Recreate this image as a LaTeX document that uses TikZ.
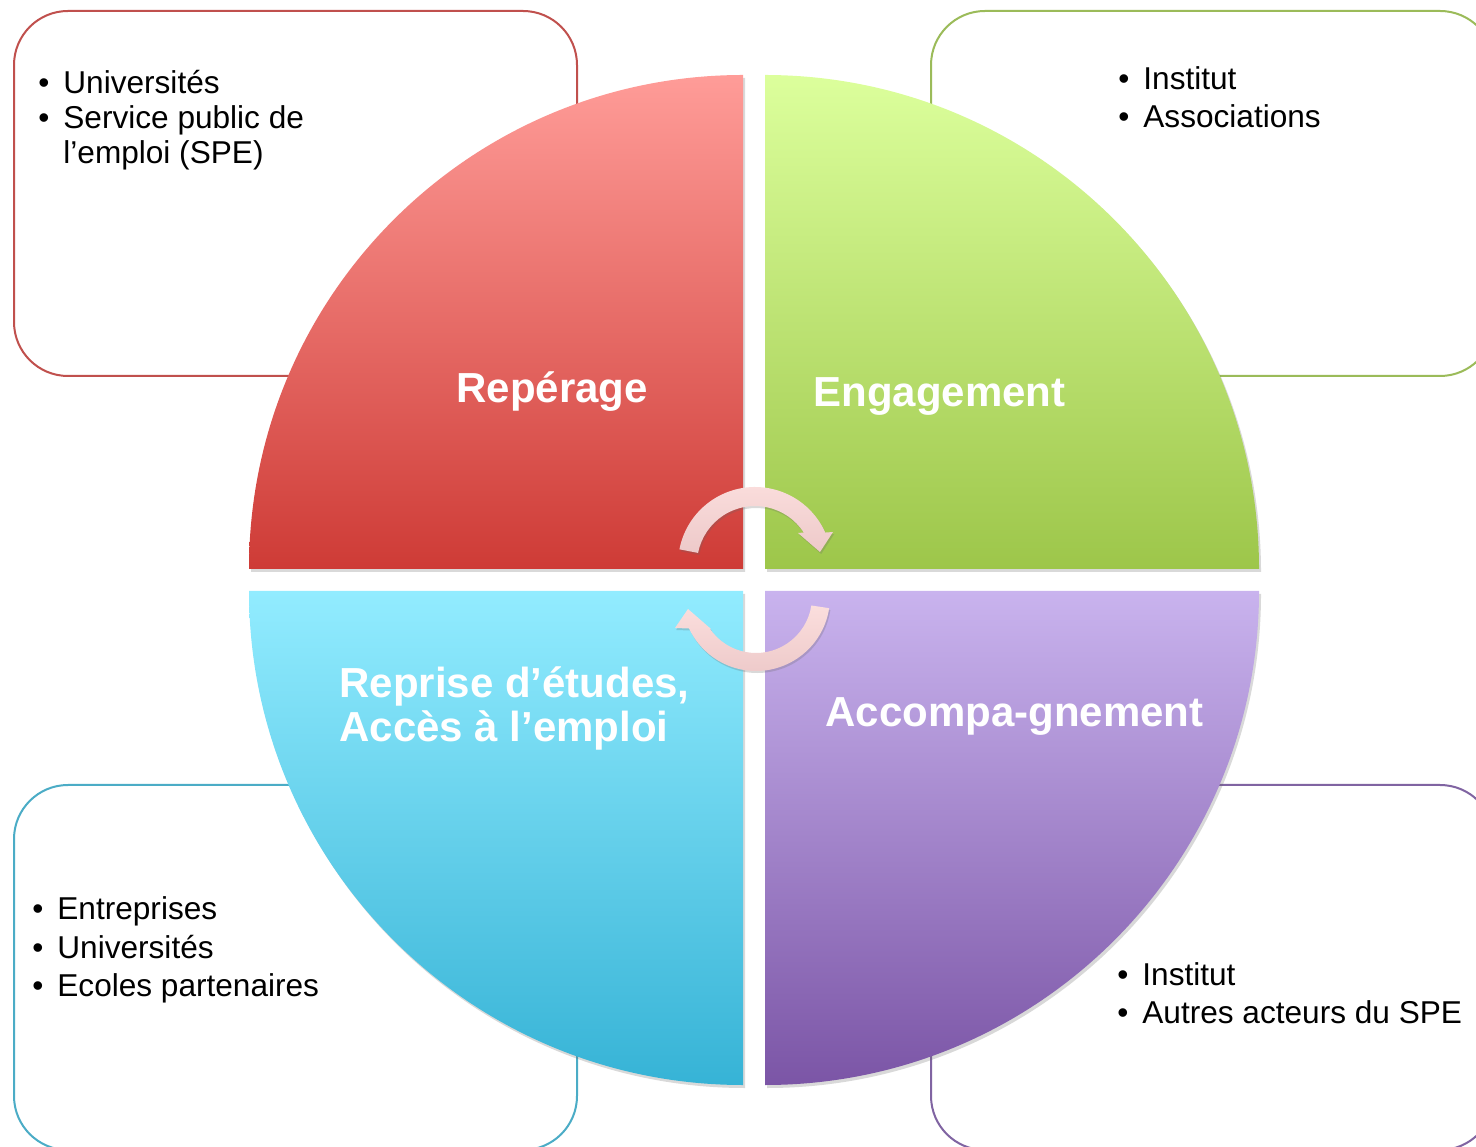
\documentclass[tikz,border=0pt]{standalone}
\usepackage{fontspec}
\setmainfont{Liberation Sans}
\usetikzlibrary{shadows}
\definecolor{boxred}{HTML}{C0504D}
\definecolor{boxgreen}{HTML}{9BBB59}
\definecolor{boxblue}{HTML}{4BACC6}
\definecolor{boxpurple}{HTML}{8064A2}
\definecolor{redtop}{HTML}{FF9C98}
\definecolor{redbot}{HTML}{CE3B36}
\definecolor{greentop}{HTML}{DCFF9C}
\definecolor{greenbot}{HTML}{9DC64A}
\definecolor{bluetop}{HTML}{92ECFF}
\definecolor{bluebot}{HTML}{36B3D6}
\definecolor{purtop}{HTML}{C9B3EE}
\definecolor{purbot}{HTML}{7B55A6}
\definecolor{arrtop}{HTML}{FBDEDD}
\definecolor{arrbot}{HTML}{EDC9C9}
\newcommand\bmark{\llap{\makebox[12.5pt][l]{•}}}
\begin{document}
\begin{tikzpicture}[x=0.5pt,y=0.5pt,
  partbox/.style={line width=1pt, rounded corners=27pt, fill=white},
  quad/.style={drop shadow={shadow xshift=1pt, shadow yshift=-1.5pt, opacity=0.25, fill=black!60}},
  arrowfill/.style={top color=arrtop, bottom color=arrbot,
     drop shadow={shadow xshift=0.6pt, shadow yshift=-1pt, opacity=0.25, fill=black!60}},
  item/.style={inner sep=0pt, anchor=base west, font=\fontsize{15.8}{19}\selectfont, text=black},
  label/.style={inner sep=0pt, anchor=base west, font=\fontsize{21}{22}\selectfont\bfseries, text=white}]
\useasboundingbox (0,0) rectangle (1476,1146);
\clip (0,0) rectangle (1476,1146);

% boxes
\draw[partbox, draw=boxred]    (14,770) rectangle (577,1135);
\draw[partbox, draw=boxgreen]  (931,770) rectangle (1494,1135);
\draw[partbox, draw=boxblue]   (14,-4) rectangle (577,361);
\draw[partbox, draw=boxpurple] (931,-4) rectangle (1494,361);

% quadrants
\coordinate (cTL) at (743,577);
\coordinate (cTR) at (765,577);
\coordinate (cBL) at (743,555);
\coordinate (cBR) at (765,555);
\path[quad, top color=redtop, bottom color=redbot]
  (cTL) -- ++(-494,0) arc[start angle=180, end angle=90, radius=494] -- cycle;
\path[quad, top color=greentop, bottom color=greenbot]
  (cTR) -- ++(0,494) arc[start angle=90, end angle=0, radius=494] -- cycle;
\path[quad, top color=bluetop, bottom color=bluebot]
  (cBL) -- ++(0,-494) arc[start angle=270, end angle=180, radius=494] -- cycle;
\path[quad, top color=purtop, bottom color=purbot]
  (cBR) -- ++(494,0) arc[start angle=0, end angle=-90, radius=494] -- cycle;

% circular arrows
\coordinate (cA) at (755,582);
\path[arrowfill] ([shift={(169:77)}]cA) arc[start angle=169, end angle=24.1, radius=77]
  -- (833,614) -- (820,594) -- (798,613)
  -- ([shift={(32.9:58)}]cA) arc[start angle=32.9, end angle=169, radius=58] -- cycle;
\coordinate (cB) at (756,549);
\path[arrowfill] ([shift={(-8.7:74)}]cB) arc[start angle=-8.7, end angle=-154.8, radius=74]
  -- (675,518) -- (688,537) -- (711,517)
  -- ([shift={(-145.8:56)}]cB) arc[start angle=-145.8, end angle=-8.7, radius=56] -- cycle;

% quadrant labels
\node[label] (lrep) at (456,743) {Repérage};
\node[label] (leng) at (813,739) {Engagement};
\node[label] (lrepr1) at (339,448) {Reprise d’études,};
\node[label] (lrepr2) at (339,404) {Accès à l’emploi};
\node[label] (lacc) at (825,419) {Accompa-gnement};

% lists
\node[item] (tl1) at (63,1052) {\bmark Universités};
\node[item] (tl2) at (63,1017) {\bmark Service public de};
\node[item] (tl3) at (63,982) {l’emploi (SPE)};

\node[item] (tr1) at (1143,1056) {\bmark Institut};
\node[item] (tr2) at (1143,1018) {\bmark Associations};

\node[item] (bl1) at (57,227) {\bmark Entreprises};
\node[item] (bl2) at (57,188) {\bmark Universités};
\node[item] (bl3) at (57,150) {\bmark Ecoles partenaires};

\node[item] (br1) at (1142,161) {\bmark Institut};
\node[item] (br2) at (1142,123) {\bmark Autres acteurs du SPE};
\end{tikzpicture}
\end{document}
